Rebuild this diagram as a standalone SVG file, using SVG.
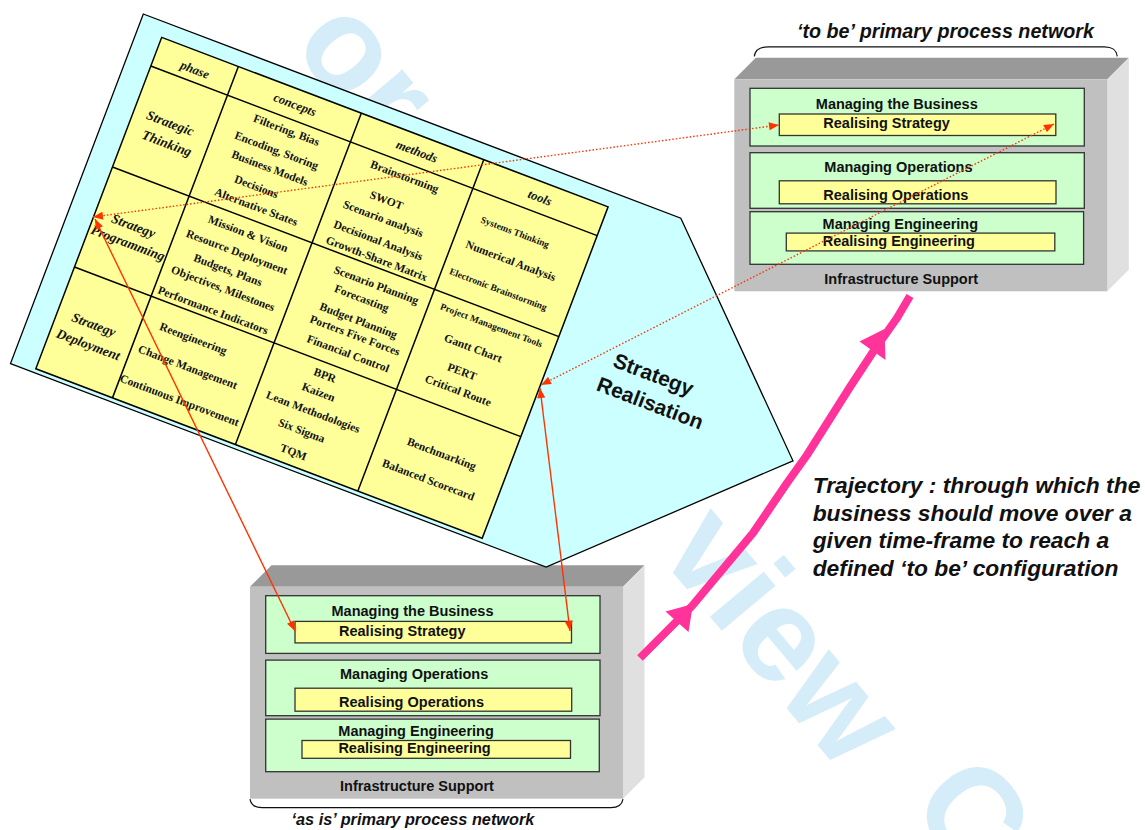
<svg xmlns="http://www.w3.org/2000/svg" width="1145" height="830" viewBox="0 0 1145 830">
<defs>
<marker id="ah" viewBox="0 0 10 8" refX="10" refY="4" markerWidth="11" markerHeight="8" markerUnits="userSpaceOnUse" orient="auto-start-reverse"><path d="M0,0 L10,4 L0,8 z" fill="#ff3300"/></marker>
</defs>
<style>
.tb{font-family:"Liberation Serif","Times New Roman",serif;font-weight:bold;font-size:11.5px;fill:#111;text-anchor:middle}
.sm{font-size:9.5px}
.hd{font-style:italic;font-size:12.5px}
.ph{font-style:italic;font-size:13.5px}
.grid{stroke:#000;stroke-width:1.5;fill:none}
.bx{font-family:"Liberation Sans",Arial,sans-serif;font-weight:bold;font-size:14.5px;fill:#111}
.cap{font-family:"Liberation Sans",Arial,sans-serif;font-weight:bold;font-style:italic;fill:#111}
.top{fill:#999999}
.side{fill:#e0e0e0}
.front{fill:#c0c0c0}
.grn{fill:#ccffcc;stroke:#333;stroke-width:1.3}
.yel{fill:#ffff99;stroke:#333;stroke-width:1.3}
.red{stroke:#ff3300;stroke-width:1.4;fill:none}
.dot{stroke-dasharray:1.5 2}
.brace{stroke:#111;stroke-width:1.2;fill:none}
.sr{font-family:"Liberation Sans",Arial,sans-serif;font-weight:bold;font-size:21px;text-anchor:middle;fill:#111}
.wm{font-family:"Liberation Sans",Arial,sans-serif;font-weight:bold;font-size:133px;text-anchor:middle;fill:#d5ecf9}
</style>
<rect width="1145" height="830" fill="#ffffff"/>

<g id="watermark">
<text class="wm" transform="translate(360,74) rotate(50)" y="35">or</text>
<text class="wm" transform="translate(776,641) rotate(50)" y="35">view</text>
<text class="wm" transform="translate(975,812) rotate(50)" y="48">C</text>
</g>

<g id="to-be-box" transform="translate(734.3,79.3)">
<polygon class="top" points="0,0 21.5,-21.5 394.5,-21.5 373,0"/>
<polygon class="side" points="373,0 394.5,-21.5 394.5,190.5 373,212"/>
<rect class="front" x="0" y="0" width="373" height="212"/>
<rect class="grn" x="15.7" y="9" width="334.3" height="57.7"/>
<rect class="grn" x="15.7" y="73.4" width="334.3" height="55.6"/>
<rect class="grn" x="15.7" y="132.4" width="333.6" height="52.6"/>
<rect class="yel" x="45" y="34.7" width="276.5" height="21.5"/>
<rect class="yel" x="45" y="101.5" width="276.7" height="23"/>
<rect class="yel" x="52" y="153.8" width="268.5" height="17.8"/>
<text class="bx" x="81.5" y="29.5">Managing the Business</text>
<text class="bx" x="89" y="49">Realising Strategy</text>
<text class="bx" x="90" y="92.5">Managing Operations</text>
<text class="bx" x="89" y="120.5">Realising Operations</text>
<text class="bx" x="88.3" y="149.5">Managing Engineering</text>
<text class="bx" x="88.4" y="166.5">Realising Engineering</text>
<text class="bx" x="90" y="204.5">Infrastructure Support</text>
<path class="brace" d="M20,-23 C21,-30 26,-32.5 34,-32.5 L370,-32.5 C378,-32.5 382,-30 383,-23"/>
<text class="cap" x="62.7" y="-41" font-size="19.7">‘to be’ primary process network</text>
</g>

<g id="as-is-box" transform="translate(250,586.7)">
<polygon class="top" points="0,0 21.5,-21.5 394.5,-21.5 373,0"/>
<polygon class="side" points="373,0 394.5,-21.5 394.5,190.5 373,212"/>
<rect class="front" x="0" y="0" width="373" height="212"/>
<rect class="grn" x="15.7" y="9" width="334.3" height="57.7"/>
<rect class="grn" x="15.7" y="73.4" width="334.3" height="55.6"/>
<rect class="grn" x="15.7" y="132.4" width="333.6" height="52.6"/>
<rect class="yel" x="45" y="34.7" width="276.5" height="21.5"/>
<rect class="yel" x="45" y="101.5" width="276.7" height="23"/>
<rect class="yel" x="52" y="153.8" width="268.5" height="17.8"/>
<text class="bx" x="81.5" y="29.5">Managing the Business</text>
<text class="bx" x="89" y="49">Realising Strategy</text>
<text class="bx" x="90" y="92.5">Managing Operations</text>
<text class="bx" x="89" y="120.5">Realising Operations</text>
<text class="bx" x="88.3" y="149.5">Managing Engineering</text>
<text class="bx" x="88.4" y="166.5">Realising Engineering</text>
<text class="bx" x="90" y="204.5">Infrastructure Support</text>
<path class="brace" d="M0,212.5 C1,218.5 5,221 12,221 L361,221 C368,221 372,218.5 373,212.5"/>
<text class="cap" x="41.5" y="238" font-size="16.3">‘as is’ primary process network</text>
</g>

<g id="strategy-table" transform="translate(143.3,14) rotate(20.8)">
<polygon points="0,0 575,0 766,187 573,374 0,374" fill="#ccffff" stroke="#000" stroke-width="1.3"/>
<rect x="25.5" y="15.3" width="477.5" height="354.5" fill="#ffff99" stroke="#000" stroke-width="1.5"/>
<path class="grid" d="M25.5,46 H503 M25.5,154 H503 M25.5,261 H503 M107.5,15.3 V369.8 M239,15.3 V369.8 M370,15.3 V369.8"/>
<text class="tb hd" x="68" y="38">phase</text>
<text class="tb hd" x="174" y="35">concepts</text>
<text class="tb hd" x="304.5" y="35.5">methods</text>
<text class="tb hd" x="436" y="35">tools</text>
<text class="tb ph" x="64" y="97">Strategic</text>
<text class="tb ph" x="68" y="117">Thinking</text>
<text class="tb ph" x="66" y="206">Strategy</text>
<text class="tb ph" x="67" y="224">Programming</text>
<text class="tb ph" x="64" y="312.5">Strategy</text>
<text class="tb ph" x="66" y="333">Deployment</text>
<text class="tb" x="175" y="61.5">Filtering, Bias</text>
<text class="tb" x="173" y="84">Encoding, Storing</text>
<text class="tb" x="173" y="103">Business Models</text>
<text class="tb" x="167" y="125">Decisions</text>
<text class="tb" x="174" y="144">Alternative States</text>
<text class="tb" x="176" y="172">Mission &amp; Vision</text>
<text class="tb" x="172" y="193">Resource Deployment</text>
<text class="tb" x="170" y="213">Budgets, Plans</text>
<text class="tb" x="172" y="232">Objectives, Milestones</text>
<text class="tb" x="170.5" y="256">Performance Indicators</text>
<text class="tb" x="162" y="289.5">Reengineering</text>
<text class="tb" x="167" y="318">Change Management</text>
<text class="tb" x="171" y="352">Continuous Improvement</text>
<text class="tb" x="302" y="63">Brainstorming</text>
<text class="tb" x="293.5" y="91.5">SWOT</text>
<text class="tb" x="297" y="110">Scenario analysis</text>
<text class="tb" x="300" y="132">Decisional Analysis</text>
<text class="tb" x="305" y="149.5">Growth-Share Matrix</text>
<text class="tb" x="314" y="174.5">Scenario Planning</text>
<text class="tb" x="305" y="192">Forecasting</text>
<text class="tb" x="310" y="214">Budget Planning</text>
<text class="tb" x="312" y="229">Porters Five Forces</text>
<text class="tb" x="312" y="248.5">Financial Control</text>
<text class="tb" x="298" y="277">BPR</text>
<text class="tb" x="298" y="295">Kaizen</text>
<text class="tb" x="300" y="315.5">Lean Methodologies</text>
<text class="tb" x="296" y="337">Six Sigma</text>
<text class="tb" x="296" y="360">TQM</text>
<text class="tb sm" x="425" y="75">Systems Thinking</text>
<text class="tb" x="431" y="104">Numerical Analysis</text>
<text class="tb sm" x="429.5" y="134.5">Electronic Brainstorming</text>
<text class="tb sm" x="436" y="170.5">Project Management Tools</text>
<text class="tb" x="427" y="199">Gantt Chart</text>
<text class="tb" x="425" y="225">PERT</text>
<text class="tb" x="428" y="244">Critical Route</text>
<text class="tb" x="435" y="309">Benchmarking</text>
<text class="tb" x="432" y="338">Balanced Scorecard</text>
<text class="sr" x="605" y="163">Strategy</text>
<text class="sr" x="612" y="191">Realisation</text>
</g>

<g id="trajectory">
<path d="M640,658 L692,606 L753,533 L787,483 L807,455 L850,387 L873,352 L897,318 L910,296" fill="none" stroke="#ff3399" stroke-width="8" stroke-linejoin="round"/>
<polygon points="693,604 665.5,611.5 688.5,632" fill="#ff3399"/>
<polygon points="884.5,329 859.5,341.5 885.5,360" fill="#ff3399"/>
<text class="cap" font-size="22.8" x="812.7" y="493.3">Trajectory : through which the</text>
<text class="cap" font-size="22.8" x="812.7" y="520.7">business should move over a</text>
<text class="cap" font-size="22.8" x="812.7" y="548">given time-frame to reach a</text>
<text class="cap" font-size="22.8" x="812.7" y="576">defined ‘to be’ configuration</text>
</g>

<g id="connectors">
<path class="red dot" d="M93,217 L779,125" marker-start="url(#ah)" marker-end="url(#ah)"/>
<path class="red dot" d="M541,385 L1054,124" marker-start="url(#ah)" marker-end="url(#ah)"/>
<path class="red" d="M95,219 L295,631" marker-start="url(#ah)" marker-end="url(#ah)"/>
<path class="red" d="M540,388 L570,631" marker-start="url(#ah)" marker-end="url(#ah)"/>
</g>
</svg>
